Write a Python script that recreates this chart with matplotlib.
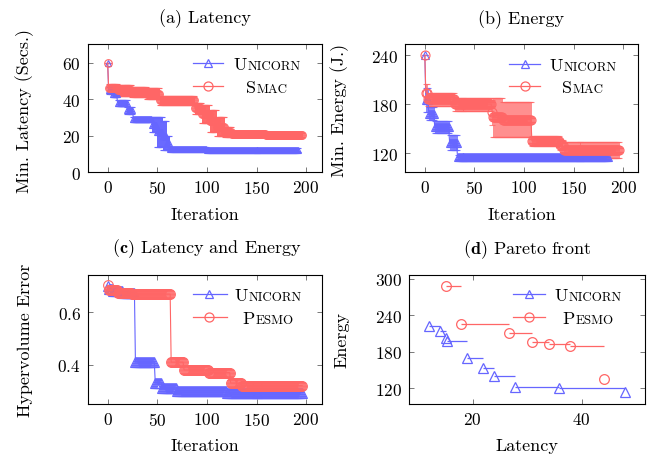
import numpy as np
import matplotlib
matplotlib.use('Agg')
import matplotlib.pyplot as plt
from matplotlib.lines import Line2D
from matplotlib.offsetbox import TextArea, HPacker, AnnotationBbox

plt.rcParams['font.family'] = ['cmr10', 'DejaVu Serif']
plt.rcParams['mathtext.fontset'] = 'cm'
plt.rcParams['axes.formatter.use_mathtext'] = True
plt.rcParams['axes.unicode_minus'] = False

# ---------------- data (step segments: start iteration, value, error) ----------------
# (a) Latency
lat_uni_start = [0, 1, 5, 10, 20, 26, 45, 50, 56, 60, 63, 100]
lat_uni_value = [60, 45, 43, 38, 34, 29, 26, 22, 20, 16, 12.5, 12]
lat_uni_err   = [0, 2, 2, 1.5, 2, 1.5, 4, 8, 8, 4, 1.2, 1]
lat_uni_end = 193
lat_smac_start = [0, 1, 10, 25, 40, 53, 88, 95, 103, 110, 118, 125, 160]
lat_smac_value = [60, 46, 45, 44, 43, 39.5, 35, 32, 28, 25, 22, 21, 20.5]
lat_smac_err   = [0, 2.5, 3, 3, 3, 2.5, 3, 5, 6, 5, 3, 1.5, 1.2]
lat_smac_end = 197

# (b) Energy
en_uni_start = [0, 1, 4, 10, 25, 33]
en_uni_value = [240, 185, 168, 152, 133, 115]
en_uni_err   = [0, 15, 8, 7, 9, 3]
en_uni_end = 186
en_smac_start = [0, 1, 3, 30, 68, 69, 79, 108, 136, 140]
en_smac_value = [240, 194, 186, 180, 170, 164, 161, 135, 130, 124]
en_smac_err   = [0, 10, 8, 8, 15, 24, 21, 6, 6, 10]
en_smac_end = 197

# (c) Hypervolume error
hv_uni_start = [0, 1, 5, 15, 28, 48, 55, 70, 120]
hv_uni_value = [0.70, 0.69, 0.68, 0.675, 0.41, 0.33, 0.31, 0.30, 0.293]
hv_uni_end = 197
hv_pesmo_start = [0, 1, 10, 25, 64, 77, 102, 124, 135]
hv_pesmo_value = [0.705, 0.685, 0.675, 0.67, 0.41, 0.38, 0.37, 0.33, 0.32]
hv_pesmo_end = 197

# (d) Pareto front
pf_uni_lat = [11.9, 13.9, 15.0, 15.2, 18.9, 21.8, 23.9, 27.8, 35.8, 47.9]
pf_uni_en  = [223, 214.6, 202.5, 197, 169.5, 153, 139.3, 121, 119.5, 112.9]
pf_pesmo_lat = [15.0, 17.8, 26.7, 30.8, 33.9, 37.9, 44.0]
pf_pesmo_en  = [288.9, 225.7, 210.8, 195.4, 192.6, 188.8, 134.9]

labels_a = ['Unicorn', 'Smac']
labels_c = ['Unicorn', 'Pesmo']

# ---------------- styling ----------------
BLUE = '#6666ff'
RED = '#ff6666'
W, H = 664, 456
fig = plt.figure(figsize=(W / 100, H / 100), dpi=100)


def fx(px):
    return px / W


def fy(py):
    return 1 - py / H


def add_axes(l, t, r, b):
    ax = fig.add_axes([fx(l), fy(b), (r - l) / W, (b - t) / H])
    ax.tick_params(direction='in', top=True, right=True, length=3.5, width=0.5,
                   labelsize=12.5, pad=5, color='#444444')
    for s in ax.spines.values():
        s.set_linewidth(0.8)
    return ax


def steps(starts, values, end):
    it = np.arange(end)
    idx = np.searchsorted(starts, it, side='right') - 1
    return it, np.asarray(values, dtype=float)[idx]


def smallcaps_box(word, size=13):
    a = TextArea(word[0], textprops=dict(fontsize=size, family='cmr10'))
    b = TextArea(word[1:].upper(), textprops=dict(fontsize=size * 0.72, family='cmr10'))
    return HPacker(children=[a, b], align='baseline', pad=0, sep=0.3)


def legend_entry(ax, x0, x1, xm, y, color, marker, ms, label, xt):
    fig.add_artist(Line2D([fx(x0), fx(x1)], [fy(y), fy(y)], color=color, lw=0.9,
                          transform=fig.transFigure))
    fig.add_artist(Line2D([fx(xm)], [fy(y)], marker=marker, ms=ms, mfc='none',
                          mec=color, mew=0.9, transform=fig.transFigure))
    ab = AnnotationBbox(smallcaps_box(label), (fx(xt), fy(y + 1.5)),
                        xycoords='figure fraction', frameon=False,
                        box_alignment=(0.5, 0.5), pad=0, annotation_clip=False)
    ax.add_artist(ab)


def err_plot(ax, starts, values, errs, end, color, marker, ms, ealpha=1.0):
    x, y = steps(starts, values, end)
    _, e = steps(starts, errs, end)
    ax.errorbar(x, y, yerr=e, color=color, marker=marker, ms=ms, mfc='none',
                mew=0.8, lw=0.8, elinewidth=0.7, capsize=2, capthick=0.7,
                ecolor=matplotlib.colors.to_rgba(color, ealpha))


# ---------------- (a) Latency ----------------
ax_a = add_axes(88, 45, 322, 173)
err_plot(ax_a, lat_uni_start, lat_uni_value, lat_uni_err, lat_uni_end, BLUE, '^', 5)
err_plot(ax_a, lat_smac_start, lat_smac_value, lat_smac_err, lat_smac_end, RED, 'o', 5.5)
ax_a.set_xlim(-19.8, 216)
ax_a.set_ylim(0, 70.4)
ax_a.set_xticks([0, 50, 100, 150, 200])
ax_a.set_yticks([0, 20, 40, 60])

# ---------------- (b) Energy ----------------
ax_b = add_axes(405, 45, 638, 173)
err_plot(ax_b, en_uni_start, en_uni_value, en_uni_err, en_uni_end, BLUE, '^', 6, 0.8)
err_plot(ax_b, en_smac_start, en_smac_value, en_smac_err, en_smac_end, RED, 'o', 6.5, 0.75)
ax_b.set_xlim(-20, 215)
ax_b.set_ylim(97, 253.5)
ax_b.set_xticks([0, 50, 100, 150, 200])
ax_b.set_yticks([120, 180, 240])

# ---------------- (c) Hypervolume ----------------
ax_c = add_axes(88, 276, 322, 405)
x, y = steps(hv_uni_start, hv_uni_value, hv_uni_end)
ax_c.plot(x, y, color=BLUE, marker='^', ms=6.5, mfc='none', mew=0.8, lw=0.8)
x, y = steps(hv_pesmo_start, hv_pesmo_value, hv_pesmo_end)
ax_c.plot(x, y, color=RED, marker='o', ms=7, mfc='none', mew=0.8, lw=0.8)
ax_c.set_xlim(-19.8, 216)
ax_c.set_ylim(0.25, 0.743)
ax_c.set_xticks([0, 50, 100, 150, 200])
ax_c.set_yticks([0.4, 0.6])

# ---------------- (d) Pareto front ----------------
ax_d = add_axes(409, 276, 645, 405)
ax_d.hlines(pf_uni_en[:-1], pf_uni_lat[:-1], pf_uni_lat[1:], color=BLUE, lw=0.9)
ax_d.plot(pf_uni_lat, pf_uni_en, ls='none', color=BLUE, marker='^', ms=6.5, mfc='none', mew=0.9)
ax_d.hlines(pf_pesmo_en[:-1], pf_pesmo_lat[:-1], pf_pesmo_lat[1:], color=RED, lw=0.9)
ax_d.plot(pf_pesmo_lat, pf_pesmo_en, ls='none', color=RED, marker='o', ms=7, mfc='none', mew=0.9)
ax_d.set_xlim(8.3, 51.6)
ax_d.set_ylim(93.6, 306.6)
ax_d.set_xticks([20, 40])
ax_d.set_yticks([120, 180, 240, 300])

# ---------------- titles and labels ----------------
TS = 13
fig.text(fx(205), fy(23.3), '(a) Latency', ha='center', va='baseline', fontsize=TS)
fig.text(fx(521.5), fy(24), '(b) Energy', ha='center', va='baseline', fontsize=TS)
fig.text(fx(207), fy(253.3), r'$\mathbf{(c)}$ Latency and Energy', ha='center', va='baseline', fontsize=TS)
fig.text(fx(527), fy(254.3), r'$\mathbf{(d)}$ Pareto front', ha='center', va='baseline', fontsize=TS)

fig.text(fx(205), fy(220), 'Iteration', ha='center', va='baseline', fontsize=TS)
fig.text(fx(521.5), fy(220), 'Iteration', ha='center', va='baseline', fontsize=TS)
fig.text(fx(205), fy(451.5), 'Iteration', ha='center', va='baseline', fontsize=TS)
fig.text(fx(527), fy(451.5), 'Latency', ha='center', va='baseline', fontsize=TS)

fig.text(fx(25), fy(111), 'Min. Latency (Secs.)', ha='center', va='center', rotation=90, fontsize=TS)
fig.text(fx(340), fy(110), 'Min. Energy (J.)', ha='center', va='center', rotation=90, fontsize=TS)
fig.text(fx(25), fy(340.5), 'Hypervolume Error', ha='center', va='center', rotation=90, fontsize=TS)
fig.text(fx(342), fy(340.5), 'Energy', ha='center', va='center', rotation=90, fontsize=TS)

# ---------------- legends ----------------
legend_entry(ax_a, 193, 223, 208, 64, BLUE, '^', 5.5, labels_a[0], 267)
legend_entry(ax_a, 193, 223, 208, 87.3, RED, 'o', 6.5, labels_a[1], 267)
legend_entry(ax_b, 509, 540, 525, 65, BLUE, '^', 5.5, labels_a[0], 583)
legend_entry(ax_b, 509, 540, 525, 87.3, RED, 'o', 6.5, labels_a[1], 583)
legend_entry(ax_c, 193, 227, 209, 295, BLUE, '^', 5.5, labels_c[0], 268)
legend_entry(ax_c, 193, 227, 209, 318.3, RED, 'o', 6.5, labels_c[1], 268)
legend_entry(ax_d, 513, 545, 529, 295, BLUE, '^', 5.5, labels_c[0], 588)
legend_entry(ax_d, 513, 545, 529, 318.3, RED, 'o', 6.5, labels_c[1], 588)

fig.savefig('out.png', dpi=100)
